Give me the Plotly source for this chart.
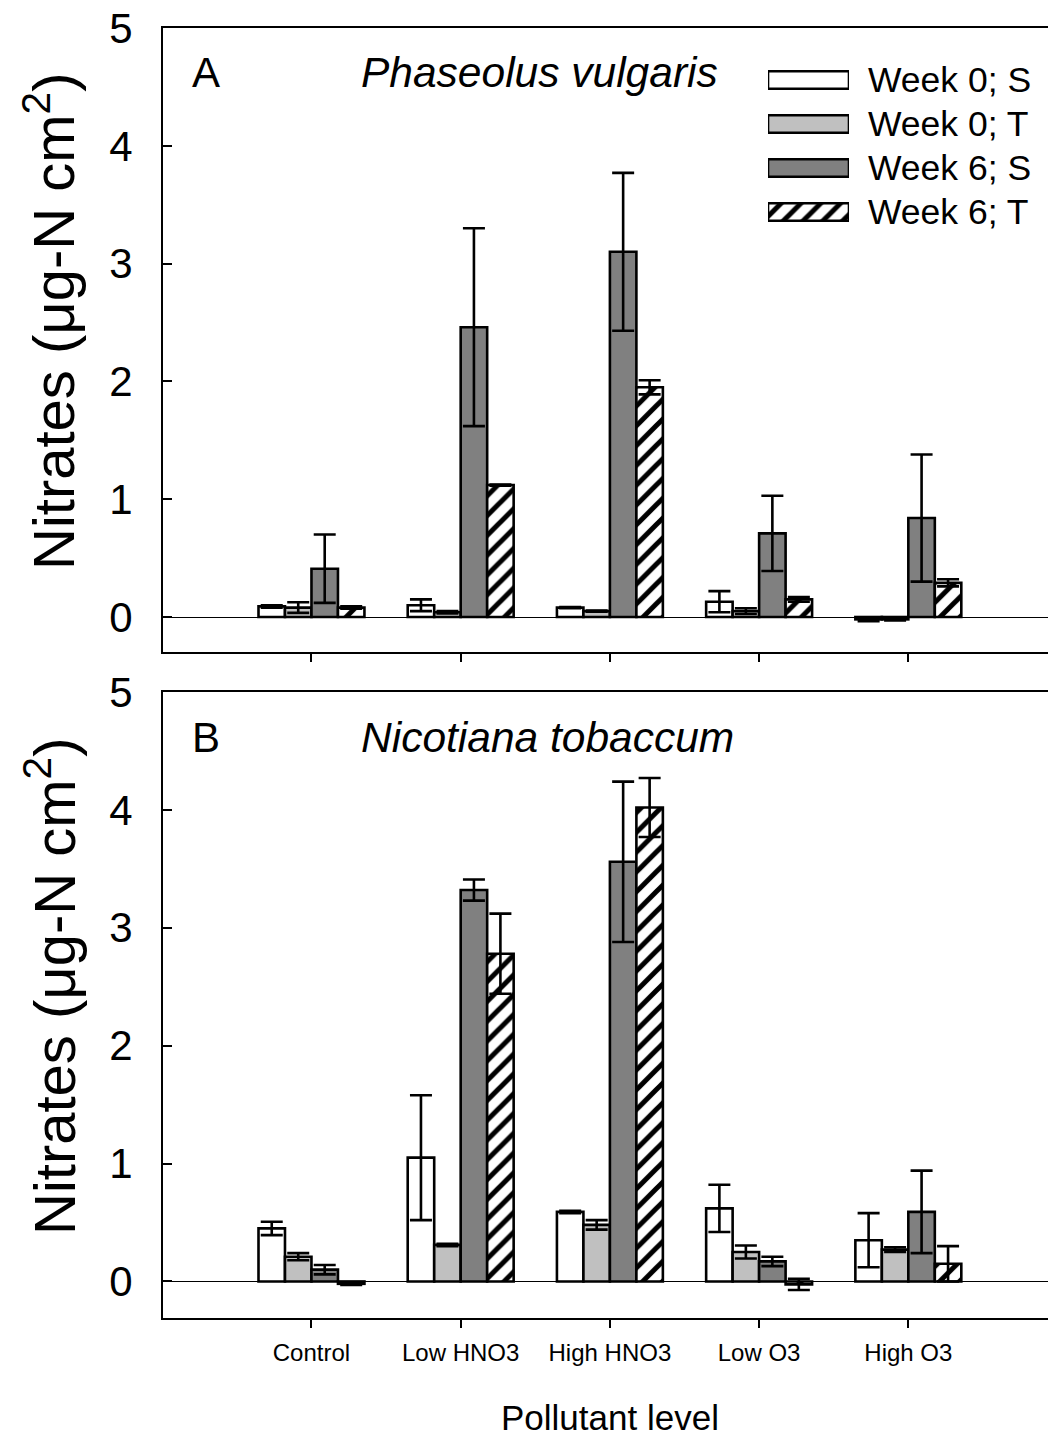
import plotly.graph_objects as go

categories = ["Control", "Low HNO3", "High HNO3", "Low O3", "High O3"]
series = ["Week 0; S", "Week 0; T", "Week 6; S", "Week 6; T"]

# Panel A - Phaseolus vulgaris
a_w0s = [0.09, 0.10, 0.08, 0.13, -0.02]
a_w0s_err = [0.01, 0.05, 0.005, 0.09, 0.015]
a_w0t = [0.08, 0.04, 0.05, 0.05, -0.02]
a_w0t_err = [0.045, 0.01, 0.005, 0.025, 0.01]
a_w6s = [0.41, 2.46, 3.10, 0.71, 0.84]
a_w6s_err = [0.29, 0.84, 0.67, 0.32, 0.54]
a_w6t = [0.08, 1.12, 1.95, 0.15, 0.29]
a_w6t_err = [0.01, 0.005, 0.06, 0.02, 0.03]

# Panel B - Nicotiana tobaccum
b_w0s = [0.45, 1.05, 0.59, 0.62, 0.35]
b_w0s_err = [0.057, 0.53, 0.01, 0.20, 0.23]
b_w0t = [0.21, 0.31, 0.48, 0.25, 0.27]
b_w0t_err = [0.03, 0.01, 0.04, 0.055, 0.02]
b_w6s = [0.10, 3.32, 3.56, 0.17, 0.59]
b_w6s_err = [0.04, 0.09, 0.68, 0.04, 0.35]
b_w6t = [-0.02, 2.78, 4.02, -0.025, 0.15]
b_w6t_err = [0.01, 0.34, 0.25, 0.047, 0.15]

panel_labels = ["A", "B"]
species = ["Phaseolus vulgaris", "Nicotiana tobaccum"]
y_ticks = [0, 1, 2, 3, 4, 5]

W, H = 1048, 1437
FONT = "Liberation Sans, Arial, sans-serif"


def px(x):
    return x / W


def py(y):
    return (H - y) / H


styles = [
    dict(color="white"),
    dict(color="#c0c0c0"),
    dict(color="#808080"),
    dict(color="white", pattern=dict(shape="/", fgcolor="black", bgcolor="white",
                                      size=14, solidity=0.36, fgopacity=1)),
]

fig = go.Figure()
xs = list(range(len(categories)))

panels = [
    ("x", "y", [a_w0s, a_w0t, a_w6s, a_w6t], [a_w0s_err, a_w0t_err, a_w6s_err, a_w6t_err]),
    ("x2", "y2", [b_w0s, b_w0t, b_w6s, b_w6t], [b_w0s_err, b_w0t_err, b_w6s_err, b_w6t_err]),
]
for xa, ya, vals, errs in panels:
    for i, name in enumerate(series):
        fig.add_trace(go.Bar(
            x=xs, y=vals[i], name=name, xaxis=xa, yaxis=ya,
            marker=dict(line=dict(color="black", width=2.6), **styles[i]),
            error_y=dict(type="data", array=errs[i], visible=True, color="black",
                         thickness=2.6, width=11),
            showlegend=False,
        ))

# legend drawn as horizontal bars on a hidden axis
for i, name in enumerate(series):
    fig.add_trace(go.Bar(
        x=[1], y=[i], base=0, orientation="h", width=0.4, xaxis="x3", yaxis="y3",
        marker=dict(line=dict(color="black", width=2.6), **styles[i]),
        showlegend=False, hoverinfo="skip",
    ))

xdom = [px(163), 1.0]
ydomA = [py(652), py(28)]
ydomB = [py(1318), py(692)]
xr = [-0.995, 4.936]
yrA = [-0.297, 5.0]
yrB = [-0.31, 5.0]

common_x = dict(range=xr, domain=xdom, showline=True, linecolor="black", linewidth=2,
                mirror=True, ticks="outside", ticklen=8, tickwidth=2, tickcolor="black",
                tickvals=xs, ticktext=categories, showgrid=False, zeroline=False,
                automargin=False,
                tickfont=dict(family=FONT, size=24, color="black"))
common_y = dict(showline=True, linecolor="black", linewidth=2, ticks="inside", ticklen=9,
                tickwidth=2, tickcolor="black", tickvals=y_ticks, showgrid=False,
                zeroline=True, zerolinecolor="black", zerolinewidth=1, automargin=False,
                tickfont=dict(family=FONT, size=42, color="black"),
                ticklabelstandoff=20)
right_y = dict(side="right", tickvals=y_ticks, ticks="inside", ticklen=4, tickwidth=2,
               tickcolor="black", showticklabels=False, showline=False, showgrid=False,
               zeroline=False, automargin=False)

fig.update_layout(
    width=W, height=H, margin=dict(l=0, r=0, t=0, b=0, autoexpand=False),
    paper_bgcolor="white", plot_bgcolor="white",
    barmode="group", bargap=0.29, bargroupgap=0,
    font=dict(family=FONT, color="black"),
    xaxis=dict(anchor="y", showticklabels=False, **common_x),
    yaxis=dict(anchor="x", domain=ydomA, range=yrA, **common_y),
    xaxis2=dict(anchor="y2", showticklabels=True, ticklabelstandoff=4, **common_x),
    yaxis2=dict(anchor="x2", domain=ydomB, range=yrB, **common_y),
    xaxis3=dict(anchor="y3", domain=[px(768), px(849)], range=[0, 1], visible=False,
                automargin=False),
    yaxis3=dict(anchor="x3", domain=[py(234), py(58)], range=[3.5, -0.5], visible=False,
                automargin=False),
    yaxis4=dict(overlaying="y", anchor="x", range=yrA, **right_y),
    yaxis5=dict(overlaying="y2", anchor="x2", range=yrB, **right_y),
)

ann = []
for k, (ytxt, ymid) in enumerate([(72, 322), (737, 987)]):
    ann.append(dict(text=panel_labels[k], x=px(190), y=py(ytxt), xref="paper", yref="paper",
                    xanchor="left", yanchor="middle", showarrow=False,
                    font=dict(family=FONT, size=42, color="black")))
    ann.append(dict(text="<i>" + species[k] + "</i>", x=px(359), y=py(ytxt), xref="paper",
                    yref="paper", xanchor="left", yanchor="middle", showarrow=False,
                    font=dict(family=FONT, size=42.5, color="black")))
    ann.append(dict(text="Nitrates (μg-N cm<sup>2</sup>)", x=px(50), y=py(ymid),
                    xref="paper", yref="paper", xanchor="center", yanchor="middle",
                    textangle=-90, showarrow=False,
                    font=dict(family=FONT, size=58, color="black")))
for i, name in enumerate(series):
    ann.append(dict(text=name, x=px(866), y=i, xref="paper", yref="y3", xanchor="left",
                    yanchor="middle", showarrow=False,
                    font=dict(family=FONT, size=35.5, color="black")))
ann.append(dict(text="Pollutant level", x=px(610), y=py(1417), xref="paper", yref="paper",
                xanchor="center", yanchor="middle", showarrow=False,
                font=dict(family=FONT, size=35, color="black")))
fig.update_layout(annotations=ann)

fig.write_html("out.html")
